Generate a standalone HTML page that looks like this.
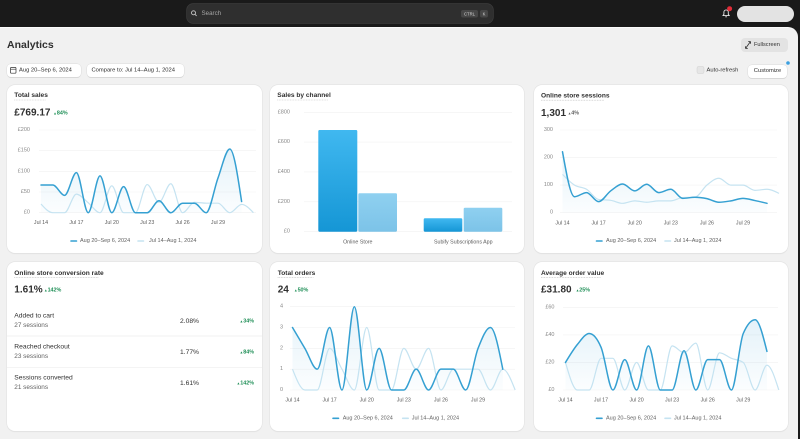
<!DOCTYPE html>
<html><head><meta charset="utf-8">
<style>
html,body{margin:0;padding:0;width:800px;height:438px;overflow:hidden;background:#1a1a1a;font-family:"Liberation Sans",sans-serif;}
.abs{position:absolute;}
.panel{position:absolute;left:0;top:27px;width:798px;height:411px;background:#f1f1f1;border-top-right-radius:10px;border-top:1px solid #fbfbfb;}
.card{position:absolute;background:#fff;border-radius:8px;box-shadow:0 0 0 0.6px #e2e2e2,0 1px 1px rgba(0,0,0,0.07);}
.btn{position:absolute;background:#fff;border-radius:4px;box-shadow:0 0 0 0.5px #dcdcdc,0 1px 0 rgba(0,0,0,0.12);}
svg text{font-family:"Liberation Sans",sans-serif;}
</style></head><body>
<div class="abs" style="left:187px;top:4px;width:306px;height:19px;background:#2f2f2f;border-radius:6px;box-shadow:0 0 0 0.7px #3c3c3c;"></div>
<div class="abs" style="left:737px;top:5.5px;width:57px;height:16.5px;background:#e3e3e3;border-radius:8.5px;"></div>
<div class="panel"></div>
<div class="abs" style="left:741px;top:38px;width:47px;height:14px;background:#e3e3e3;border-radius:4px;"></div>
<div class="btn" style="left:7px;top:64px;width:74px;height:13px;"></div>
<div class="btn" style="left:87px;top:64px;width:97px;height:13px;"></div>
<div class="btn" style="left:748px;top:64.5px;width:39px;height:13px;"></div>

<div class="card" style="left:7px;top:85px;width:255px;height:168px;"></div>
<div class="card" style="left:270px;top:85px;width:254px;height:168px;"></div>
<div class="card" style="left:534px;top:85px;width:254px;height:168px;"></div>
<div class="card" style="left:7px;top:262px;width:255px;height:169px;"></div>
<div class="card" style="left:270px;top:262px;width:254px;height:169px;"></div>
<div class="card" style="left:534px;top:262px;width:254px;height:169px;"></div>

<svg class="abs" style="left:0;top:0" width="800" height="438" viewBox="0 0 800 438" xmlns="http://www.w3.org/2000/svg">
<defs>
<linearGradient id="gCur" x1="0" y1="0" x2="0" y2="1"><stop offset="0" stop-color="#40b8f0"/><stop offset="1" stop-color="#1596d5"/></linearGradient>
<linearGradient id="gPrev" x1="0" y1="0" x2="0" y2="1"><stop offset="0" stop-color="#8fd0f0"/><stop offset="1" stop-color="#7cc3e8"/></linearGradient>
<linearGradient id="gArea" x1="0" y1="0" x2="0" y2="1"><stop offset="0" stop-color="#4aa8d8" stop-opacity="0.15"/><stop offset="1" stop-color="#4aa8d8" stop-opacity="0.02"/></linearGradient>
</defs>

<!-- top bar -->
<circle cx="193.5" cy="12.8" r="2" fill="none" stroke="#c8c8c8" stroke-width="0.9"/>
<line x1="195" y1="14.3" x2="196.6" y2="15.9" stroke="#c8c8c8" stroke-width="0.9"/>
<text x="201.5" y="13.6" font-size="6.2" fill="#a6a6a6" dominant-baseline="central">Search</text>
<rect x="461" y="10" width="17" height="7.5" rx="2" fill="#474747"/>
<text x="469.5" y="13.9" font-size="4.2" fill="#d8d8d8" text-anchor="middle" dominant-baseline="central">CTRL</text>
<rect x="480" y="10" width="8" height="7.5" rx="2" fill="#474747"/>
<text x="484" y="13.9" font-size="4.2" fill="#d8d8d8" text-anchor="middle" dominant-baseline="central">K</text>
<path d="M723,15.6 h6.2 l-0.9,-1.3 v-2.2 a2.2,2.2 0 0 0 -4.4,0 v2.2 z" fill="none" stroke="#e6e6e6" stroke-width="0.9"/>
<line x1="725.3" y1="16.8" x2="726.9" y2="16.8" stroke="#e6e6e6" stroke-width="0.9"/>
<circle cx="729.6" cy="8.7" r="2.5" fill="#e22c38"/>

<!-- header -->
<text x="7" y="45" font-size="10.5" font-weight="bold" fill="#303030" dominant-baseline="central">Analytics</text>
<path d="M745.5,48.5 L750.5,41.5 M745.5,48.5 v-2.3 M745.5,48.5 h2.3 M750.5,41.5 h-2.3 M750.5,41.5 v2.3" stroke="#303030" stroke-width="0.8" fill="none"/>
<text x="754" y="45.2" font-size="5.6" fill="#303030" dominant-baseline="central">Fullscreen</text>
<rect x="10.5" y="67.4" width="5.5" height="5.8" rx="1" fill="none" stroke="#303030" stroke-width="0.7"/>
<line x1="10.5" y1="69.2" x2="16" y2="69.2" stroke="#303030" stroke-width="0.6"/>
<text x="19" y="70.6" font-size="5.8" fill="#303030" dominant-baseline="central">Aug 20–Sep 6, 2024</text>
<text x="91.5" y="70.6" font-size="5.8" fill="#303030" dominant-baseline="central">Compare to: Jul 14–Aug 1, 2024</text>
<rect x="697" y="66.5" width="7" height="7" rx="1.5" fill="#e6e6e6" stroke="#d0d0d0" stroke-width="0.5"/>
<text x="706.5" y="70.4" font-size="5.8" fill="#303030" dominant-baseline="central">Auto-refresh</text>
<text x="767.5" y="71.1" font-size="5.8" fill="#303030" text-anchor="middle" dominant-baseline="central">Customize</text>
<circle cx="788" cy="63" r="1.8" fill="#3b9fe0"/>

<!-- titles -->
<g font-size="6.6" font-weight="bold" fill="#303030">
<text x="14.3" y="95.7" dominant-baseline="central">Total sales</text>
<text x="277.3" y="95.7" dominant-baseline="central">Sales by channel</text>
<text x="541" y="95.9" dominant-baseline="central">Online store sessions</text>
<text x="14.3" y="273.3" dominant-baseline="central">Online store conversion rate</text>
<text x="277.7" y="273.3" dominant-baseline="central">Total orders</text>
<text x="541" y="273.3" dominant-baseline="central">Average order value</text>
</g>
<g stroke="#b4b4b4" stroke-width="0.6" stroke-dasharray="0.8 0.8">
<line x1="14.3" y1="100" x2="46" y2="100"/>
<line x1="277.3" y1="100" x2="328.3" y2="100"/>
<line x1="541" y1="100.2" x2="604" y2="100.2"/>
<line x1="14.3" y1="277.6" x2="99" y2="277.6"/>
<line x1="277.7" y1="277.6" x2="313.3" y2="277.6"/>
<line x1="541" y1="277.6" x2="600.7" y2="277.6"/>
</g>

<!-- big values -->
<g font-size="10" font-weight="bold" fill="#303030">
<text x="14.3" y="113" dominant-baseline="central">£769.17</text>
<text x="541" y="113.4" dominant-baseline="central">1,301</text>
<text x="14.3" y="290.2" dominant-baseline="central">1.61%</text>
<text x="277.7" y="290.2" dominant-baseline="central">24</text>
<text x="541" y="290.2" dominant-baseline="central">£31.80</text>
</g>
<g font-size="5.4" font-weight="bold" fill="#1f8f57">
<text x="53.3" y="113.4" dominant-baseline="central"><tspan font-size="3.6">▲</tspan>84%</text>
<text x="44" y="290.4" dominant-baseline="central"><tspan font-size="3.6">▲</tspan>142%</text>
<text x="294" y="290.4" dominant-baseline="central"><tspan font-size="3.6">▲</tspan>50%</text>
<text x="575.7" y="290.4" dominant-baseline="central"><tspan font-size="3.6">▲</tspan>25%</text>
<text x="254" y="321.3" text-anchor="end" dominant-baseline="central"><tspan font-size="3.6">▲</tspan>34%</text>
<text x="254" y="352.3" text-anchor="end" dominant-baseline="central"><tspan font-size="3.6">▲</tspan>84%</text>
<text x="254" y="383.3" text-anchor="end" dominant-baseline="central"><tspan font-size="3.6">▲</tspan>142%</text>
</g>
<text x="567.7" y="113.6" font-size="5.4" font-weight="bold" fill="#616161" dominant-baseline="central"><tspan font-size="3.6">▲</tspan>4%</text>

<!-- conversion rows -->
<g font-size="6.7" fill="#303030">
<text x="14.3" y="316" dominant-baseline="central">Added to cart</text>
<text x="14.3" y="347" dominant-baseline="central">Reached checkout</text>
<text x="14.3" y="378" dominant-baseline="central">Sessions converted</text>
<text x="199" y="321.3" text-anchor="end" dominant-baseline="central">2.08%</text>
<text x="199" y="352.3" text-anchor="end" dominant-baseline="central">1.77%</text>
<text x="199" y="383.3" text-anchor="end" dominant-baseline="central">1.61%</text>
</g>
<g font-size="6.4" fill="#616161">
<text x="14.3" y="325.5" dominant-baseline="central">27 sessions</text>
<text x="14.3" y="356.5" dominant-baseline="central">23 sessions</text>
<text x="14.3" y="387.7" dominant-baseline="central">21 sessions</text>
</g>
<line x1="7" y1="336" x2="262" y2="336" stroke="#eeeeee" stroke-width="0.7"/>
<line x1="7" y1="367.7" x2="262" y2="367.7" stroke="#eeeeee" stroke-width="0.7"/>

<!-- gridlines -->
<g stroke="#f1f1f1" stroke-width="0.6">
<line x1="39" y1="130" x2="256" y2="130"/><line x1="39" y1="150.7" x2="256" y2="150.7"/><line x1="39" y1="171.4" x2="256" y2="171.4"/><line x1="39" y1="192" x2="256" y2="192"/><line x1="39" y1="212.7" x2="256" y2="212.7"/>
<line x1="304" y1="112.3" x2="512" y2="112.3"/><line x1="304" y1="142.1" x2="512" y2="142.1"/><line x1="304" y1="171.9" x2="512" y2="171.9"/><line x1="304" y1="201.8" x2="512" y2="201.8"/><line x1="304" y1="231.7" x2="512" y2="231.7"/>
<line x1="560" y1="130" x2="777" y2="130"/><line x1="560" y1="157.6" x2="777" y2="157.6"/><line x1="560" y1="185.1" x2="777" y2="185.1"/><line x1="560" y1="212.7" x2="777" y2="212.7"/>
<line x1="290" y1="306.7" x2="515" y2="306.7"/><line x1="290" y1="327.5" x2="515" y2="327.5"/><line x1="290" y1="348.4" x2="515" y2="348.4"/><line x1="290" y1="369.2" x2="515" y2="369.2"/><line x1="290" y1="390" x2="515" y2="390"/>
<line x1="563" y1="307.3" x2="778" y2="307.3"/><line x1="563" y1="334.9" x2="778" y2="334.9"/><line x1="563" y1="362.4" x2="778" y2="362.4"/><line x1="563" y1="390" x2="778" y2="390"/>
</g>

<!-- y labels -->
<g font-size="5.5" fill="#888888" text-anchor="end">
<text x="30" y="130" dominant-baseline="central">£200</text><text x="30" y="150.7" dominant-baseline="central">£150</text><text x="30" y="171.4" dominant-baseline="central">£100</text><text x="30" y="192" dominant-baseline="central">£50</text><text x="30" y="212.7" dominant-baseline="central">£0</text>
<text x="290" y="112.3" dominant-baseline="central">£800</text><text x="290" y="142.1" dominant-baseline="central">£600</text><text x="290" y="171.9" dominant-baseline="central">£400</text><text x="290" y="201.8" dominant-baseline="central">£200</text><text x="290" y="231.7" dominant-baseline="central">£0</text>
<text x="553" y="130" dominant-baseline="central">300</text><text x="553" y="157.6" dominant-baseline="central">200</text><text x="553" y="185.1" dominant-baseline="central">100</text><text x="553" y="212.7" dominant-baseline="central">0</text>
<text x="283" y="306.7" dominant-baseline="central">4</text><text x="283" y="327.5" dominant-baseline="central">3</text><text x="283" y="348.4" dominant-baseline="central">2</text><text x="283" y="369.2" dominant-baseline="central">1</text><text x="283" y="390" dominant-baseline="central">0</text>
<text x="554.5" y="307.3" dominant-baseline="central">£60</text><text x="554.5" y="334.9" dominant-baseline="central">£40</text><text x="554.5" y="362.4" dominant-baseline="central">£20</text><text x="554.5" y="390" dominant-baseline="central">£0</text>
</g>

<!-- x labels -->
<g font-size="5.3" fill="#5c5c5c" text-anchor="middle">
<text x="41" y="223" dominant-baseline="central">Jul 14</text><text x="76.4" y="223" dominant-baseline="central">Jul 17</text><text x="111.8" y="223" dominant-baseline="central">Jul 20</text><text x="147.2" y="223" dominant-baseline="central">Jul 23</text><text x="182.6" y="223" dominant-baseline="central">Jul 26</text><text x="218" y="223" dominant-baseline="central">Jul 29</text>
<text x="562.5" y="223.3" dominant-baseline="central">Jul 14</text><text x="598.6" y="223.3" dominant-baseline="central">Jul 17</text><text x="634.7" y="223.3" dominant-baseline="central">Jul 20</text><text x="670.8" y="223.3" dominant-baseline="central">Jul 23</text><text x="706.9" y="223.3" dominant-baseline="central">Jul 26</text><text x="743" y="223.3" dominant-baseline="central">Jul 29</text>
<text x="292.5" y="400.7" dominant-baseline="central">Jul 14</text><text x="329.6" y="400.7" dominant-baseline="central">Jul 17</text><text x="366.7" y="400.7" dominant-baseline="central">Jul 20</text><text x="403.8" y="400.7" dominant-baseline="central">Jul 23</text><text x="440.9" y="400.7" dominant-baseline="central">Jul 26</text><text x="478" y="400.7" dominant-baseline="central">Jul 29</text>
<text x="565.5" y="400.7" dominant-baseline="central">Jul 14</text><text x="601" y="400.7" dominant-baseline="central">Jul 17</text><text x="636.6" y="400.7" dominant-baseline="central">Jul 20</text><text x="672.1" y="400.7" dominant-baseline="central">Jul 23</text><text x="707.7" y="400.7" dominant-baseline="central">Jul 26</text><text x="743.2" y="400.7" dominant-baseline="central">Jul 29</text>
<text x="357.8" y="242.3" dominant-baseline="central">Online Store</text>
<text x="463.3" y="242.3" dominant-baseline="central">Subify Subscriptions App</text>
</g>

<!-- bars -->
<rect x="318.3" y="130" width="39" height="101.7" rx="1.2" fill="url(#gCur)"/>
<rect x="358.3" y="193.3" width="38.7" height="38.4" rx="1.2" fill="url(#gPrev)"/>
<rect x="423.7" y="218.3" width="38.6" height="13.4" rx="1.2" fill="url(#gCur)"/>
<rect x="463.7" y="207.7" width="38.6" height="24" rx="1.2" fill="url(#gPrev)"/>

<g id="lines"></g>

<!-- legends -->
<g stroke-width="1.6" stroke-linecap="round">
<line x1="71" y1="241" x2="76.5" y2="241" stroke="#35a0d2"/><line x1="138" y1="241" x2="143.5" y2="241" stroke="#c5e3f1"/>
<line x1="596.5" y1="241" x2="602" y2="241" stroke="#35a0d2"/><line x1="665" y1="241" x2="670.5" y2="241" stroke="#c5e3f1"/>
<line x1="333" y1="418.3" x2="338.5" y2="418.3" stroke="#35a0d2"/><line x1="402.7" y1="418.3" x2="408.2" y2="418.3" stroke="#c5e3f1"/>
<line x1="596.5" y1="418.3" x2="602" y2="418.3" stroke="#35a0d2"/><line x1="665" y1="418.3" x2="670.5" y2="418.3" stroke="#c5e3f1"/>
</g>
<g font-size="5.5" fill="#616161">
<text x="80" y="241.2" dominant-baseline="central">Aug 20–Sep 6, 2024</text><text x="149" y="241.2" dominant-baseline="central">Jul 14–Aug 1, 2024</text>
<text x="606" y="241.2" dominant-baseline="central">Aug 20–Sep 6, 2024</text><text x="674" y="241.2" dominant-baseline="central">Jul 14–Aug 1, 2024</text>
<text x="342.7" y="418.5" dominant-baseline="central">Aug 20–Sep 6, 2024</text><text x="411.7" y="418.5" dominant-baseline="central">Jul 14–Aug 1, 2024</text>
<text x="606" y="418.5" dominant-baseline="central">Aug 20–Sep 6, 2024</text><text x="674" y="418.5" dominant-baseline="central">Jul 14–Aug 1, 2024</text>
</g>
</svg>

<script>
(function(){
var NS="http://www.w3.org/2000/svg";
var g=document.getElementById("lines");
function mono(xs,ys){
  var n=xs.length,h=[],s=[],t=[],i;
  for(i=0;i<n-1;i++){h[i]=xs[i+1]-xs[i];s[i]=(ys[i+1]-ys[i])/h[i];}
  for(i=1;i<n-1;i++){
    var p=(s[i-1]*h[i]+s[i]*h[i-1])/(h[i-1]+h[i]);
    t[i]=(Math.sign(s[i-1])+Math.sign(s[i]))*Math.min(Math.abs(s[i-1]),Math.abs(s[i]),0.5*Math.abs(p))||0;
  }
  t[0]=(3*s[0]-t[1])/2; t[n-1]=(3*s[n-2]-t[n-2])/2;
  var d="M"+xs[0].toFixed(2)+","+ys[0].toFixed(2);
  for(i=0;i<n-1;i++){var dx=h[i]/3;
    d+="C"+(xs[i]+dx).toFixed(2)+","+(ys[i]+dx*t[i]).toFixed(2)+" "+(xs[i+1]-dx).toFixed(2)+","+(ys[i+1]-dx*t[i+1]).toFixed(2)+" "+xs[i+1].toFixed(2)+","+ys[i+1].toFixed(2);}
  return d;
}
function add(d,attrs){var p=document.createElementNS(NS,"path");p.setAttribute("d",d);for(var k in attrs)p.setAttribute(k,attrs[k]);g.appendChild(p);}
var charts=[
 {x0:41,dx:11.8,y0:212.7,y1:130,max:200,
  cur:[67,67,42,97,0,89,0,63,0,0,29,0,23,23,0,84,154,27],
  prev:[21,0,0,45,24,0,65,0,0,68,25,70,0,25,23,23,0,20,0]},
 {x0:562.5,dx:12.03,y0:212.7,y1:130,max:300,
  cur:[221,58,73,40,79,104,79,103,73,85,52,56,51,38,43,52,44,34],
  prev:[139,100,85,48,45,34,43,38,43,43,55,56,100,125,100,100,81,85,70]},
 {x0:292.5,dx:12.37,y0:390,y1:306.7,max:4,
  cur:[3,2,1,3,0,4,0,2,0,0,1,0,1,1,0,2,3,1],
  prev:[1,0,0,2,1,0,3,0,0,2,1,2,0,1,1,1,0,1,0]},
 {x0:565.5,dx:11.85,y0:390,y1:307.3,max:60,
  cur:[20,33,41,31,0,22,0,32,0,0,28.5,0,22,22,0,41,51,28],
  prev:[20,0,0,23,23,0,20,0,0,32,27,34,0,27,23,20,0,18,0]}
];
charts.forEach(function(c){
  function pts(arr){var xs=[],ys=[];arr.forEach(function(v,i){xs.push(c.x0+i*c.dx);ys.push(c.y0-(c.y0-c.y1)*v/c.max);});return [xs,ys];}
  var pc=pts(c.cur),pp=pts(c.prev);
  var dc=mono(pc[0],pc[1]);
  var n=pc[0].length;
  add(dc+"L"+pc[0][n-1]+","+c.y0+"L"+pc[0][0]+","+c.y0+"Z",{fill:"url(#gArea)",stroke:"none"});
  add(mono(pp[0],pp[1]),{fill:"none",stroke:"#c5e3f1","stroke-width":"1.2","stroke-linejoin":"round"});
  add(dc,{fill:"none",stroke:"#35a0d2","stroke-width":"1.5","stroke-linejoin":"round","stroke-linecap":"round"});
});
})();
</script>
</body></html>
